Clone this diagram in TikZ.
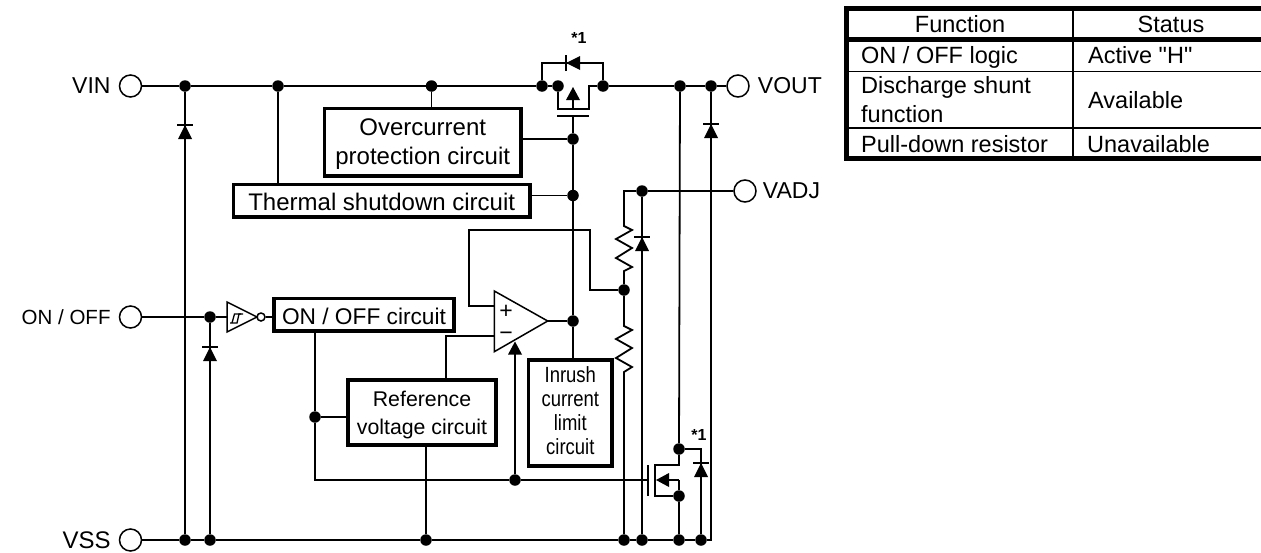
\documentclass[tikz,border=0pt]{standalone}
\usepackage{fontspec}
\setmainfont{Liberation Sans}
\newfontfamily\plainfont{Liberation Sans}
\newfontfamily\narrowfont[FakeStretch=0.84]{Liberation Sans}
\usetikzlibrary{positioning}

\tikzset{
	tipup/.pic={\fill (-7,13) -- (7,13) -- (0,0) -- cycle;},
	diodeup/.pic={
		\fill (-7,14) -- (7,14) -- (0,0) -- cycle;
		\draw[line width=1.8pt] (-8,0) -- (8,0);
	}
}

\begin{document}
\begin{tikzpicture}[x=1pt,y=-1pt,node distance=8pt,
		font=\fontsize{23}{28}\selectfont,
		wire/.style={line width=1.8pt},
		junction/.style={circle,fill=black,inner sep=0pt,minimum size=11.5pt},
		terminal/.style={circle,draw,fill=white,line width=1.5pt,inner sep=0pt,minimum size=22pt},
		termlabel/.style={inner sep=0pt},
		blockbox/.style={draw,fill=white,line width=3.7pt,align=center,inner sep=0pt},
		tableline/.style={line width=1.8pt},
		tablerule/.style={line width=5pt},
		tabletext/.style={inner sep=0pt,font=\plainfont\fontsize{23.5}{28}\selectfont},
		starmark/.style={inner sep=0pt,font=\bfseries\fontsize{16}{18}\selectfont}]
		\useasboundingbox (0,0) rectangle (1261,552);

		% terminals
		\node[terminal](vin) at (130.5,86) {};
		\node[terminal](onoff) at (130.5,317) {};
		\node[terminal](vss) at (130.5,540) {};
		\node[terminal](vout) at (738,86) {};
		\node[terminal](vadj) at (745,191) {};
		\node[termlabel](vinT)[left=of vin] {VIN};
		\node[termlabel,font=\fontsize{20.5}{24}\selectfont](onoffT)[left=of onoff] {ON / OFF};
		\node[termlabel,font=\fontsize{24}{28}\selectfont](vssT)[left=of vss] {VSS};
		\node[termlabel](voutT)[right=of vout] {VOUT};
		\node[termlabel](vadjT)[right=6pt of vadj] {VADJ};

		% blocks
		\node[blockbox,minimum width=196.5pt,minimum height=67.5pt,font=\fontsize{24}{29}\selectfont](ocp) at (422.7,142.3) {\rule{0pt}{19.5pt}Overcurrent\\protection circuit};
		\node[blockbox,minimum width=296.5pt,minimum height=32.5pt,text height=20.5pt,font=\fontsize{24}{29}\selectfont](tsd) at (381.7,200.7) {Thermal shutdown circuit};
		\node[blockbox,minimum width=180pt,minimum height=32.5pt,text height=20.4pt,font=\fontsize{22.7}{28}\selectfont](ctl) at (364,314.7) {ON / OFF circuit};
		\node[blockbox,minimum width=147.5pt,minimum height=65pt,font=\fontsize{21.3}{28}\selectfont](ref) at (422,412.5) {\rule{0pt}{19.5pt}Reference\\voltage circuit};
		\node[blockbox,minimum width=83.5pt,minimum height=106pt,font=\narrowfont\fontsize{22}{24}\selectfont](irl) at (570.3,413) {Inrush\\current\\limit\\circuit\rule[-5pt]{0pt}{5pt}};

		% junctions
		\node[junction](vinA) at (185,86) {};
		\node[junction](vinB) at (278,86) {};
		\node[junction](vinC) at (431.5,86) {};
		\node[junction](fetA) at (542,86) {};
		\node[junction](fetB) at (558,86) {};
		\node[junction](fetC) at (603,86) {};
		\node[junction](outA) at (680,86) {};
		\node[junction](outB) at (711,86) {};
		\node[junction](gateA) at (573,139) {};
		\node[junction](gateB) at (573,195.5) {};
		\node[junction](gateC) at (573,321) {};
		\node[junction](adjA) at (642,191) {};
		\node[junction](fbA) at (624,290) {};
		\node[junction](enA) at (210,317) {};
		\node[junction](enB) at (315,417) {};
		\node[junction](enC) at (515,480) {};
		\node[junction](dsA) at (679,449) {};
		\node[junction](dsB) at (679,496) {};
		\node[junction](vssA) at (185,540) {};
		\node[junction](vssB) at (210,540) {};
		\node[junction](vssC) at (426,540) {};
		\node[junction](vssD) at (624,540) {};
		\node[junction](vssE) at (642,540) {};
		\node[junction](vssF) at (679,540) {};
		\node[junction](vssG) at (701,540) {};

		% corners and free ends
		\coordinate (fetL) at (558,109);
		\coordinate (fetR) at (589,109);
		\coordinate (fetRT) at (589,86);
		\coordinate (fetM) at (573,109);
		\coordinate (gateT) at (573,116);
		\coordinate (bdL) at (542,63);
		\coordinate (bdR) at (603,63);
		\coordinate (adjL) at (624,191);
		\coordinate (resAT) at (624,226);
		\coordinate (resAB) at (624,271);
		\coordinate (resBT) at (624,326);
		\coordinate (resBB) at (624,372);
		\coordinate (fb1) at (590,290);
		\coordinate (fb2) at (590,230);
		\coordinate (fb3) at (469,230);
		\coordinate (fb4) at (469,306);
		\coordinate (opP) at (494.3,306);
		\coordinate (opM) at (494.3,336);
		\coordinate (opO) at (547.7,321);
		\coordinate (opT) at (494.3,291);
		\coordinate (opB) at (494.3,351.7);
		\coordinate (refIn) at (445.7,336);
		\coordinate (enT) at (315,480);
		\coordinate (fetD) at (655,465);
		\coordinate (fetS) at (655,496);
		\coordinate (fetDT) at (679,465);
		\coordinate (gate2) at (648,480);
		\coordinate (body2) at (679,480);
		\coordinate (pdT) at (701,449);
		\coordinate (vssZ) at (711,540);
		\coordinate (invA) at (227,302);
		\coordinate (invB) at (227,332);
		\coordinate (invC) at (257,317);
		\coordinate (invIn) at (227,317);
		\node[circle,draw,line width=1.5pt,inner sep=0pt,minimum size=8pt](bubble) at (261,317) {};

		% rails
		\draw[wire] (vin) -- (vinA) -- (vinB) -- (vinC) -- (fetA) -- (fetB);
		\draw[wire] (fetC) -- (outA) -- (outB) -- (vout);
		\draw[wire] (vss) -- (vssA) -- (vssB) -- (vssC) -- (vssD) -- (vssE) -- (vssF) -- (vssG) -- (vssZ) -- (outB);
		\draw[wire] (vinA) -- (vssA);
		\draw[wire] (enA) -- (vssB);
		\draw[wire] (vinB) -- (vinB|-tsd.north);
		\draw[wire] (vinC) -- (vinC|-ocp.north);
		\draw[wire] (ref.south-|vssC) -- (vssC);

		% pass transistor
		\draw[wire] (fetB) -- (fetL) -- (fetR) -- (fetRT) -- (fetC);
		\draw[wire] (573,97) -- (fetM);
		\pic at (573,87) {tipup};
		\draw[wire] (557,116) -- (589,116);
		\draw[wire] (fetA) -- (bdL) -- (bdR) -- (fetC);
		\pic[rotate=90] at (566,63) {diodeup};
		\node[starmark](starA) at (579,38) {*1};

		% gate line
		\draw[wire] (gateT) -- (gateA) -- (gateB) -- (gateC) -- (gateC|-irl.north);
		\draw[wire] (gateA-|ocp.east) -- (gateA);
		\draw[wire] (gateB-|tsd.east) -- (gateB);
		\draw[wire] (opO) -- (gateC);

		% opamp
		\draw[line width=1.5pt] (opT) -- (opO) -- (opB) -- cycle;
		\node[inner sep=0pt](plus) at (506,311.7) {+};
		\node[inner sep=0pt](minus) at (506,336) {−};
		\draw[wire] (opM) -- (refIn) -- (refIn|-ref.north);
		\draw[wire] (enC) -- (515,354);
		\pic at (515,341.5) {tipup};

		% divider
		\draw[wire] (vadj) -- (adjA) -- (adjL) -- (resAT)
			-- ++(8,4) -- ++(-16,9) -- ++(16,9) -- ++(-16,10) -- ++(16,9) -- (resAB) -- (fbA) -- (resBT)
			-- ++(8,4) -- ++(-16,9) -- ++(16,9) -- ++(-16,10) -- ++(16,9) -- (resBB) -- (vssD);
		\draw[wire] (fbA) -- (fb1) -- (fb2) -- (fb3) -- (fb4) -- (opP);
		\draw[wire] (adjA) -- (vssE);
		\pic at (642,237) {diodeup};

		% clamp diodes
		\pic at (185,125) {diodeup};
		\pic at (210,347) {diodeup};
		\pic at (711,124) {diodeup};

		% enable input
		\draw[wire] (onoff) -- (enA) -- (invIn);
		\draw[line width=1.5pt] (invA) -- (invC) -- (invB) -- cycle;
		\draw[line width=1.3pt] (230,323) -- (237,323) -- (239,314) -- (243,314);
		\draw[line width=1.3pt] (232,323) -- (234.5,314) -- (241,314);
		\draw[wire] (bubble) -- (bubble-|ctl.west);
		\draw[wire] (ctl.south-|enB) -- (enB) -- (enT) -- (enC) -- (gate2);
		\draw[wire] (enB) -- (enB-|ref.west);

		% shunt transistor
		\draw[wire] (outA) -- (dsA) -- (fetDT) -- (fetD) -- (fetS) -- (dsB) -- (vssF);
		\draw[wire] (648,465) -- (648,496);
		\draw[wire] (body2) -- (dsB);
		\draw[wire] (body2) -- (666,480);
		\pic[rotate=90] at (656,480) {tipup};
		\draw[wire] (dsA) -- (pdT) -- (vssG);
		\pic at (701,463) {diodeup};
		\node[starmark](starB) at (699,435) {*1};

		% status table
		\coordinate (tabNW) at (846.5,8.5);
		\coordinate (tabNE) at (1261,8.5);
		\coordinate (tabSW) at (846.5,158.5);
		\coordinate (tabSE) at (1261,158.5);
		\coordinate (tabHL) at (846.5,39.5);
		\coordinate (tabHR) at (1261,39.5);
		\coordinate (tabAL) at (846.5,71.5);
		\coordinate (tabAR) at (1261,71.5);
		\coordinate (tabBL) at (846.5,128);
		\coordinate (tabBR) at (1261,128);
		\coordinate (tabDT) at (1073,8.5);
		\coordinate (tabDB) at (1073,158.5);
		\draw[tableline] (tabAL) -- (tabAR);
		\draw[tableline] (tabBL) -- (tabBR);
		\draw[tableline] (tabDT) -- (tabDB);
		\draw[tablerule] (tabHL) -- (tabHR);
		\draw[tablerule] (tabNE) -- (tabNW) -- (tabSW) -- (tabSE);
		\node[tabletext,anchor=base](hFun) at (960,32) {Function};
		\node[tabletext,anchor=base](hSta) at (1171,32) {Status};
		\node[tabletext,anchor=base west](c1) at (861,63) {ON / OFF logic};
		\node[tabletext,anchor=base west](c2) at (861,93) {Discharge shunt};
		\node[tabletext,anchor=base west](c3) at (861,122) {function};
		\node[tabletext,anchor=base west](c4) at (861,152) {Pull-down resistor};
		\node[tabletext,anchor=base west](s1) at (1088,63) {Active "H"};
		\node[tabletext,anchor=base west](s2) at (1088,108) {Available};
		\node[tabletext,anchor=base west](s3) at (1087,152) {Unavailable};
\end{tikzpicture}
\end{document}
